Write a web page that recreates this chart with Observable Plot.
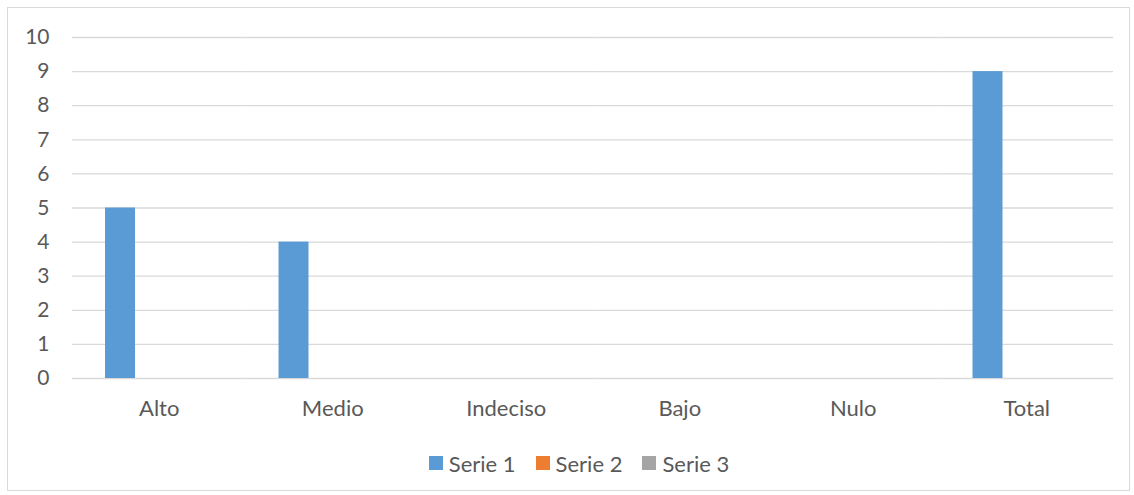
<!DOCTYPE html>
<html>
<head>
<meta charset="utf-8">
<script src="https://cdn.jsdelivr.net/npm/d3@7"></script>
<script src="https://cdn.jsdelivr.net/npm/@observablehq/plot@0.6"></script>
<style>
  html, body { margin: 0; padding: 0; background: #fff; }
  #frame { position: absolute; left: 7px; top: 7px; width: 1123px; height: 484px; border: 1px solid #d9d9d9; box-sizing: border-box; }
  #chart { position: absolute; left: 0; top: 0; }
  #legend { position: absolute; left: 12px; top: 453px; width: 1134px; height: 20px; display: flex; justify-content: center; align-items: center; font-family: Lato, sans-serif; font-size: 22px; color: #595959; }
  .sw { display: inline-flex; align-items: center; margin: 0 10px 0 10px; }
  .sq { width: 14px; height: 14px; margin-right: 6px; display: inline-block; }
</style>
</head>
<body>
<div id="frame"></div>
<div id="chart"></div>
<div id="legend"></div>
<script>
const categories = ["Alto", "Medio", "Indeciso", "Bajo", "Nulo", "Total"];
const series = ["Serie 1", "Serie 2", "Serie 3"];
const serie1 = [5, 4, 0, 0, 0, 9];
const serie2 = [0, 0, 0, 0, 0, 0];
const serie3 = [0, 0, 0, 0, 0, 0];
const colors = ["#5B9BD5", "#ED7D31", "#A5A5A5"];
const yTicks = [0, 1, 2, 3, 4, 5, 6, 7, 8, 9, 10];

const values = [serie1, serie2, serie3];
const data = [];
categories.forEach((c, i) => {
  series.forEach((s, j) => data.push({cat: c, serie: s, value: values[j][i]}));
});

const plot = Plot.plot({
  width: 1134,
  height: 440,
  marginLeft: 72,
  marginRight: 21,
  marginTop: 37,
  marginBottom: 62,
  style: {fontFamily: "Lato, sans-serif", fontSize: "21px", color: "#595959", background: "transparent"},
  fx: {domain: categories, padding: 0, round: false, label: null},
  x: {domain: series, axis: null, round: false, paddingInner: 0.226, paddingOuter: 0.852},
  y: {domain: [0, 10], label: null},
  color: {domain: series, range: colors},
  marks: [
    Plot.ruleY(yTicks, {stroke: "#d9d9d9", strokeWidth: 1.3}),
    Plot.barY(data, {fx: "cat", x: "serie", y: "value", fill: "serie"}),
    Plot.axisY(yTicks, {tickSize: 0, tickPadding: 23, fontSize: 21, label: null}),
    Plot.axisFx({anchor: "bottom", tickSize: 0, tickPadding: 22, fontSize: 22, label: null})
  ]
});
document.getElementById("chart").appendChild(plot);

const leg = d3.select("#legend");
series.forEach((s, j) => {
  const sw = leg.append("span").attr("class", "sw");
  sw.append("span").attr("class", "sq").style("background", colors[j]);
  sw.append("span").text(s);
});
</script>
</body>
</html>
